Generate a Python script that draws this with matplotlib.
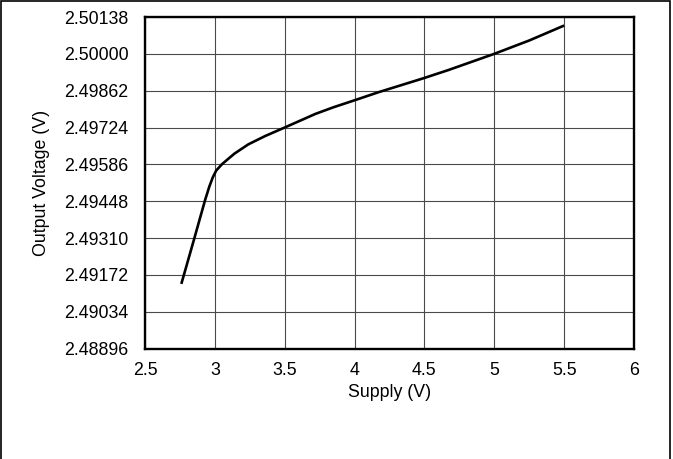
import matplotlib
matplotlib.use("Agg")
import matplotlib.pyplot as plt
from matplotlib.patches import Rectangle

# values
supply = [2.76, 2.85, 2.93, 2.96, 2.985, 3.01, 3.05, 3.09, 3.14, 3.24, 3.36,
          3.5, 3.72, 3.85, 4.0, 4.17, 4.49, 4.67, 5.0, 5.25, 5.5]
vout = [2.49138, 2.49303, 2.49452, 2.49502, 2.49537, 2.49563, 2.49586,
        2.49604, 2.49626, 2.49661, 2.49692, 2.49724, 2.49775, 2.49800,
        2.49826, 2.49856, 2.49908, 2.49939, 2.50000, 2.50050, 2.50106]

x_ticks = [2.5, 3, 3.5, 4, 4.5, 5, 5.5, 6]
x_labels = ["2.5", "3", "3.5", "4", "4.5", "5", "5.5", "6"]
y_ticks = [2.48896, 2.49034, 2.49172, 2.49310, 2.49448, 2.49586, 2.49724,
           2.49862, 2.50000, 2.50138]
y_labels = ["%.5f" % v for v in y_ticks]

plt.rcParams['font.family'] = ['Liberation Sans', 'DejaVu Sans']

fig = plt.figure(figsize=(6.73, 4.59), dpi=100)
ax = fig.add_axes([145 / 673, 1 - 348.5 / 459, (634 - 145) / 673, (348.5 - 17) / 459])

ax.plot(supply, vout, color='black', linewidth=1.9, solid_capstyle='butt',
        solid_joinstyle='round')

ax.set_xlim(2.5, 6)
ax.set_ylim(y_ticks[0], y_ticks[-1])
ax.set_xticks(x_ticks)
ax.set_xticklabels(x_labels)
ax.set_yticks(y_ticks)
ax.set_yticklabels(y_labels)
ax.tick_params(length=0, labelsize=12.8)
ax.tick_params(axis='x', pad=10)
ax.tick_params(axis='y', pad=12)
ax.grid(True, color='#4a4a4a', linewidth=0.8)
ax.set_axisbelow(True)
for s in ax.spines.values():
    s.set_linewidth(1.7)
    s.set_color('black')

ax.set_xlabel("Supply (V)", fontsize=12.8, labelpad=3)
ax.set_ylabel("Output Voltage (V)", fontsize=12.8, labelpad=10)

# outer frame of the figure (no bottom edge)
fig.patches.append(Rectangle((0.5 / 673, -0.1), 669.5 / 673, 1.1 - 1.5 / 459,
                             transform=fig.transFigure, fill=False,
                             edgecolor='black', linewidth=1.2, clip_on=False))

fig.savefig("out.png", dpi=100)
